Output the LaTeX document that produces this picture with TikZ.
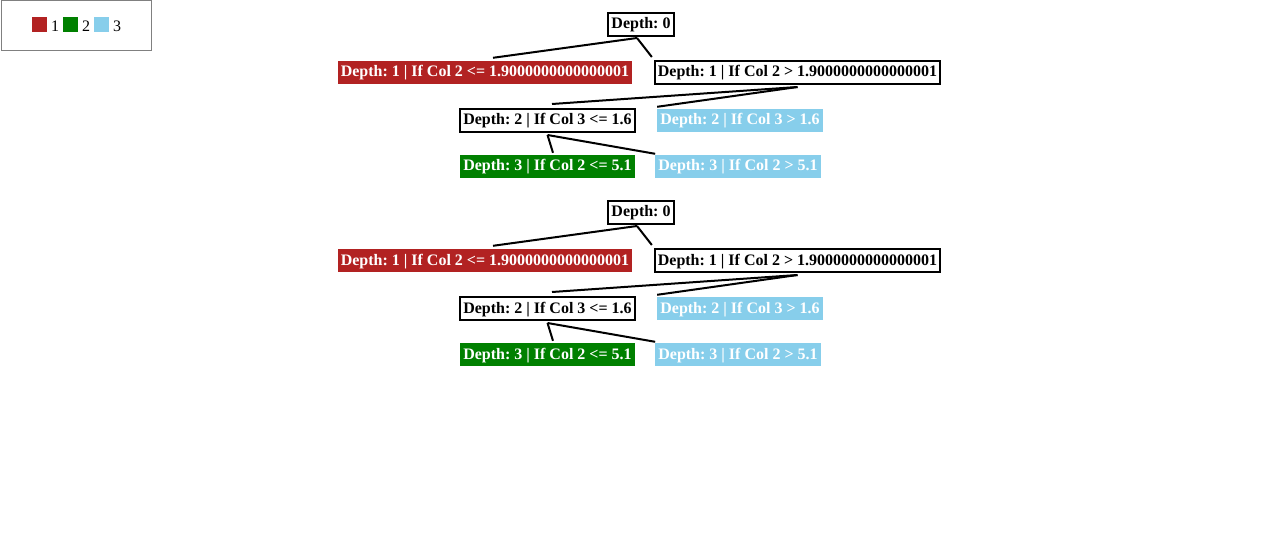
\documentclass[tikz,border=0pt]{standalone}
\usepackage{fontspec}
\setmainfont{Liberation Serif}
\usetikzlibrary{calc}
\definecolor{cred}{HTML}{B22222}
\definecolor{cgreen}{HTML}{008000}
\definecolor{cblue}{HTML}{87CEEB}
\definecolor{cgray}{HTML}{808080}
\frenchspacing
\begin{document}
\begin{tikzpicture}[x=1pt,y=-1pt,
  tbox/.style={font=\fontsize{16}{19}\selectfont\bfseries\frenchspacing, anchor=base,
    inner xsep=3pt, inner ysep=3.5pt, text height=12.5pt, text depth=3.5pt},
  wbox/.style={tbox, draw=black, line width=2pt, fill=white, text=black},
  colbox/.style={tbox, fill=#1, text=white},
  link/.style={draw=black, line width=2pt},
  legsq/.style={fill=#1, draw=none, minimum size=15pt, inner sep=0pt, anchor=north west},
  legtxt/.style={font=\fontsize{16}{19}\selectfont, inner sep=0pt, anchor=base west, text=black}]
\fill[white] (0,0) rectangle (1279,548);
\useasboundingbox (0,0) rectangle (1279,548);
% legend
\node[draw=cgray, line width=1pt, minimum width=150pt, minimum height=50pt, inner sep=0pt, anchor=north west] (legend) at (0.5,0.5) {};
\node[legsq=cred] (sq1) at (32,17) {};
\node[legtxt] (l1) at (51,32) {1};
\node[legsq=cgreen] (sq2) at (63,17) {};
\node[legtxt] (l2) at (82,32) {2};
\node[legsq=cblue] (sq3) at (94,17) {};
\node[legtxt] (l3) at (113,32) {3};
% trees
\foreach \o/\p in {0/a,188/b}{
  \begin{scope}[shift={(0,\o)}]
  \node[wbox] (\p0) at (641,29) {Depth: 0};
  \node[colbox=cred] (\p1l) at (485,77) {Depth: 1 | If Col 2 <= 1.9000000000000001};
  \node[wbox] (\p1r) at (797.5,77) {Depth: 1 | If Col 2 > 1.9000000000000001};
  \node[wbox] (\p2l) at (547.5,125) {Depth: 2 | If Col 3 <= 1.6};
  \node[colbox=cblue] (\p2r) at (740,125) {Depth: 2 | If Col 3 > 1.6};
  \node[colbox=cgreen] (\p3l) at (547.5,171) {Depth: 3 | If Col 2 <= 5.1};
  \node[colbox=cblue] (\p3r) at (738,171) {Depth: 3 | If Col 2 > 5.1};
  \end{scope}
  \draw[link] ($(\p0.south)+(-4,1)$) -- ($(\p1l.north)+(8,-3)$);
  \draw[link] ($(\p0.south)+(-4,1)$) -- ($(\p1r.north west)+(-2,-3)$);
  \draw[link] ($(\p1r.south)+(0,2)$) -- ($(\p2l.north)+(4.5,-4)$);
  \draw[link] ($(\p1r.south)+(0,2)$) -- ($(\p2r.north west)+(0,-2)$);
  \draw[link] ($(\p2l.south)+(0,2)$) -- ($(\p3l.north)+(5.5,-2)$);
  \draw[link] ($(\p2l.south)+(0,2)$) -- ($(\p3r.north west)+(0,-1)$);
}
\end{tikzpicture}
\end{document}
